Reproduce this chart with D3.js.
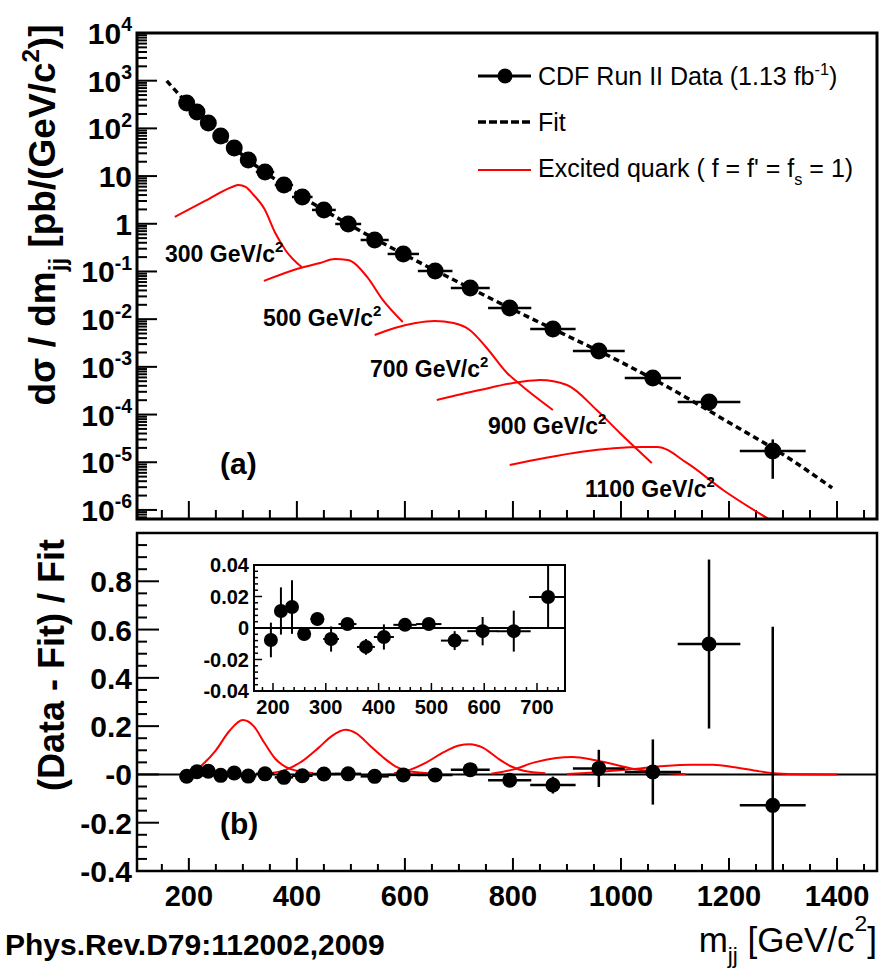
<!DOCTYPE html>
<html>
<head>
<meta charset="utf-8">
<script src="https://cdn.jsdelivr.net/npm/d3@7"></script>
<style>
  body { margin: 0; background: #fff; }
  text { font-family: "Liberation Sans", Arial, Helvetica, sans-serif; fill: #000; }
</style>
</head>
<body>
<svg id="chart"></svg>
<script>
// measured points (bin centre, half bin width)
const massGeV = [196, 215, 236, 259, 284, 310, 341, 376, 410, 450, 495, 544, 597, 656, 721, 794, 874, 959, 1059, 1163, 1281];
const binHalfWidth = [9, 10, 11, 12, 13, 15, 17, 17, 19, 22, 24, 26, 29, 32, 36, 40, 42, 48, 52, 58, 61];
const crossSection = [341, 221, 130, 69, 38.8, 21.7, 12.2, 6.5, 3.65, 1.95, 0.99, 0.457, 0.233, 0.102, 0.045,
                      0.0172, 0.0062, 0.00215, 5.85e-4, 1.84e-4, 1.73e-5];
const residual = [-0.0076, 0.0108, 0.0133, -0.0038, 0.0057, -0.007, 0.0025, -0.012, -0.0057, 0.002, 0.0025,
                  -0.008, -0.002, -0.002, 0.0197, -0.024, -0.044, 0.025, 0.01, 0.54, -0.128];
const residualErr = [0.011, 0.015, 0.017, 0.004, 0.004, 0.008, 0.003, 0.005, 0.008, 0.003, 0.003,
                     0.006, 0.009, 0.013, 0.02, 0.012, 0.035, 0.077, 0.135, 0.35, 0.74];
const nInset = 15;

// fit curve
const fitMass = [159, 200, 250, 300, 400, 500, 600, 700, 800, 900, 1000, 1100, 1200, 1300, 1391];
const fitValue = [990, 311, 88.5, 27.2, 4.33, 0.916, 0.223, 0.0588, 0.0159, 0.00451, 0.00126, 3.11e-4, 6.8e-5, 1.46e-5, 2.9e-6];

// excited quark signals, top panel (mass, log10 of dsigma/dm)
const qLabels = ["300", "500", "700", "900", "1100"];
const qMass = [
  [174, 230, 280, 292, 305, 320, 340, 360, 380, 400, 409],
  [339, 406, 443, 470, 494, 530, 559, 596],
  [544, 581, 620, 655, 690, 720, 750, 789, 819, 874],
  [659, 739, 813, 850, 900, 955, 998, 1057],
  [794, 859, 924, 1041, 1067, 1122, 1189, 1276]
];
const qLog = [
  [0.143, 0.478, 0.772, 0.814, 0.772, 0.604, 0.31, -0.193, -0.57, -0.822, -0.906],
  [-1.199, -0.927, -0.822, -0.74, -0.759, -1.115, -1.597, -2.059],
  [-2.331, -2.185, -2.08, -2.038, -2.08, -2.226, -2.583, -3.128, -3.421, -3.904],
  [-3.694, -3.484, -3.317, -3.275, -3.38, -3.904, -4.386, -5.015],
  [-5.057, -4.91, -4.784, -4.679, -4.679, -5.015, -5.581, -6.21]
];

// excited quark signals relative to fit, bottom panel
const sMass = [
  [205, 225, 250, 275, 300, 320, 340, 360, 380, 400, 430],
  [350, 380, 410, 440, 465, 490, 510, 535, 560, 585, 610, 650],
  [580, 610, 640, 670, 700, 720, 745, 770, 795, 820, 860],
  [760, 800, 840, 880, 910, 950, 990, 1030, 1070, 1120],
  [900, 960, 1020, 1080, 1130, 1170, 1210, 1250, 1290, 1340, 1400]
];
const sRatio = [
  [0.005, 0.04, 0.1, 0.18, 0.225, 0.2, 0.13, 0.065, 0.03, 0.015, 0.005],
  [0.005, 0.02, 0.055, 0.11, 0.16, 0.185, 0.17, 0.12, 0.07, 0.03, 0.012, 0.004],
  [0.005, 0.02, 0.05, 0.09, 0.12, 0.125, 0.11, 0.07, 0.035, 0.015, 0.005],
  [0.003, 0.02, 0.05, 0.068, 0.072, 0.06, 0.04, 0.02, 0.008, 0.002],
  [0.002, 0.01, 0.022, 0.035, 0.04, 0.04, 0.03, 0.015, 0.004, 0.001, 0]
];

// tick labels
const topExponents = [4, 3, 2, 1, 0, -1, -2, -3, -4, -5, -6];
const botTicks = [0.8, 0.6, 0.4, 0.2, 0, -0.2, -0.4];
const botTickText = ["0.8", "0.6", "0.4", "0.2", "-0", "-0.2", "-0.4"];
const xTicks = [200, 400, 600, 800, 1000, 1200, 1400];
const insetXTicks = [200, 300, 400, 500, 600, 700];
const insetYTicks = [0.04, 0.02, 0, -0.02, -0.04];
const insetYText = ["0.04", "0.02", "0", "-0.02", "-0.04"];

const svg = d3.select("svg#chart").attr("width", 891).attr("height", 969);

const x = d3.scaleLinear().domain([104, 1474]).range([137, 877]);
const yTop = d3.scaleLog().domain([Math.pow(10, -6.19), 1e4]).range([519, 33]);
const yBot = d3.scaleLinear().domain([-0.4, 1.0]).range([871, 533]);
const xIn = d3.scaleLinear().domain([164, 753]).range([254, 565]);
const yIn = d3.scaleLinear().domain([-0.04, 0.04]).range([691, 565]);

// parts: [text, 1 = superscript, -1 = subscript, 0 = normal]
function rich(sel, parts, size, supRaise = 0.42) {
  let shift = 0;
  parts.forEach(p => {
    const target = p[1] === 1 ? -size * supRaise : p[1] === -1 ? size * 0.3 : 0;
    sel.append("tspan")
      .attr("dy", target - shift)
      .attr("font-size", p[1] ? size * 0.65 : size)
      .text(p[0]);
    shift = target;
  });
  return sel;
}

const defs = svg.append("defs");
defs.append("clipPath").attr("id", "clipTop").append("rect")
  .attr("x", 137).attr("y", 33).attr("width", 740).attr("height", 486);
defs.append("clipPath").attr("id", "clipBot").append("rect")
  .attr("x", 137).attr("y", 533).attr("width", 740).attr("height", 338);

// ---------- top panel ----------
const upper = svg.append("g");

// ticks
const yMinor = [];
for (let k = -7; k <= 3; k++) for (let j = 1; j <= 9; j++) {
  const v = j * Math.pow(10, k);
  if (v >= yTop.domain()[0] && v <= 1e4) yMinor.push([v, j === 1]);
}
upper.selectAll(".ytick").data(yMinor).enter().append("line")
  .attr("x1", 137).attr("x2", d => 137 + (d[1] ? 20 : 10))
  .attr("y1", d => yTop(d[0])).attr("y2", d => yTop(d[0]))
  .attr("stroke", "#000").attr("stroke-width", 2);

const xMinor = d3.range(150, 1451, 50);
upper.selectAll(".xtick").data(xMinor).enter().append("line")
  .attr("x1", d => x(d)).attr("x2", d => x(d))
  .attr("y1", 519).attr("y2", d => 519 - (d % 200 === 0 ? 18 : 9))
  .attr("stroke", "#000").attr("stroke-width", 2);

upper.selectAll(".ylab").data(topExponents).enter().append("text")
  .attr("x", 132).attr("y", d => yTop(Math.pow(10, d)) + 11)
  .attr("text-anchor", "end").attr("font-weight", "bold")
  .each(function (d) {
    const t = d3.select(this);
    if (d === 0) rich(t, [["1", 0]], 30);
    else if (d === 1) rich(t, [["10", 0]], 30);
    else rich(t, [["10", 0], [String(d), 1]], 30);
  });

const topPlot = upper.append("g").attr("clip-path", "url(#clipTop)");

// excited quark curves
const lineTop = d3.line().x(d => x(d[0])).y(d => yTop(Math.pow(10, d[1]))).curve(d3.curveMonotoneX);
qMass.forEach((ms, i) => {
  topPlot.append("path")
    .attr("d", lineTop(ms.map((m, j) => [m, qLog[i][j]])))
    .attr("fill", "none").attr("stroke", "#ff0000").attr("stroke-width", 2);
});

// data
const pts = massGeV.map((m, i) => ({ m, v: crossSection[i], hw: binHalfWidth[i], r: residual[i], e: residualErr[i] }));
topPlot.selectAll(".hbar").data(pts).enter().append("line")
  .attr("x1", d => x(d.m - d.hw)).attr("x2", d => x(d.m + d.hw))
  .attr("y1", d => yTop(d.v)).attr("y2", d => yTop(d.v))
  .attr("stroke", "#000").attr("stroke-width", 2.5);
topPlot.selectAll(".vbar").data(pts).enter().append("line")
  .attr("x1", d => x(d.m)).attr("x2", d => x(d.m))
  .attr("y1", d => yTop(d.v * (1 + d.e))).attr("y2", d => yTop(d.v * (1 - d.e)))
  .attr("stroke", "#000").attr("stroke-width", 2.5);
topPlot.selectAll(".pt").data(pts).enter().append("circle")
  .attr("cx", d => x(d.m)).attr("cy", d => yTop(d.v)).attr("r", 8.5).attr("fill", "#000");

// fit
const fitLine = d3.line().x(d => x(d[0])).y(d => yTop(d[1])).curve(d3.curveMonotoneX);
topPlot.append("path")
  .attr("d", fitLine(fitMass.map((m, i) => [m, fitValue[i]])))
  .attr("fill", "none").attr("stroke", "#000").attr("stroke-width", 3.5)
  .attr("stroke-dasharray", "6,4");

upper.append("rect").attr("x", 137).attr("y", 33).attr("width", 740).attr("height", 486)
  .attr("fill", "none").attr("stroke", "#000").attr("stroke-width", 3);

// signal labels
const qLabelPos = [[165, 262], [263, 326], [370, 377], [488, 434], [585, 497]];
qLabels.forEach((l, i) => {
  rich(upper.append("text").attr("x", qLabelPos[i][0]).attr("y", qLabelPos[i][1]).attr("font-weight", "bold"),
    [[l + " GeV/c", 0], ["2", 1]], 23);
});

// legend
const leg = upper.append("g");
leg.append("line").attr("x1", 478).attr("x2", 531).attr("y1", 76).attr("y2", 76).attr("stroke", "#000").attr("stroke-width", 3);
leg.append("circle").attr("cx", 505).attr("cy", 76).attr("r", 7.5).attr("fill", "#000");
rich(leg.append("text").attr("x", 538).attr("y", 85), [["CDF Run II Data (1.13 fb", 0], ["-1", 1], [")", 0]], 25);
leg.append("line").attr("x1", 478).attr("x2", 531).attr("y1", 122).attr("y2", 122).attr("stroke", "#000")
  .attr("stroke-width", 3.5).attr("stroke-dasharray", "8,3");
rich(leg.append("text").attr("x", 538).attr("y", 131), [["Fit", 0]], 25);
leg.append("line").attr("x1", 478).attr("x2", 531).attr("y1", 170).attr("y2", 170).attr("stroke", "#ff0000").attr("stroke-width", 2);
rich(leg.append("text").attr("x", 538).attr("y", 177), [["Excited quark ( f = f' = f", 0], ["s", -1], [" = 1)", 0]], 25);

upper.append("text").attr("x", 220).attr("y", 474).attr("font-weight", "bold").attr("font-size", 30).text("(a)");

rich(svg.append("text").attr("transform", "translate(55,215) rotate(-90)").attr("text-anchor", "middle")
  .attr("font-weight", "bold"),
  [["dσ / dm", 0], ["jj", -1], [" [pb/(GeV/c", 0], ["2", 1], [")]", 0]], 37);

// ---------- bottom panel ----------
const lower = svg.append("g");
lower.selectAll(".bytick").data(d3.range(-0.4, 1.0001, 0.05)).enter().append("line")
  .attr("x1", 137).attr("x2", d => 137 + (Math.abs(Math.round(d * 100)) % 20 === 0 ? 22 : 10))
  .attr("y1", d => yBot(d)).attr("y2", d => yBot(d))
  .attr("stroke", "#000").attr("stroke-width", 2);
lower.selectAll(".bxtick").data(xMinor).enter().append("line")
  .attr("x1", d => x(d)).attr("x2", d => x(d))
  .attr("y1", 871).attr("y2", d => 871 - (d % 200 === 0 ? 13 : 7))
  .attr("stroke", "#000").attr("stroke-width", 2);
lower.selectAll(".bylab").data(botTicks).enter().append("text")
  .attr("x", 132).attr("y", d => yBot(d) + 11).attr("text-anchor", "end")
  .attr("font-weight", "bold").attr("font-size", 30).text((d, i) => botTickText[i]);
lower.selectAll(".bxlab").data(xTicks).enter().append("text")
  .attr("x", d => x(d)).attr("y", 906).attr("text-anchor", "middle")
  .attr("font-weight", "bold").attr("font-size", 29).text(d => d);

const botPlot = lower.append("g").attr("clip-path", "url(#clipBot)");
botPlot.append("line").attr("x1", 137).attr("x2", 877).attr("y1", yBot(0)).attr("y2", yBot(0))
  .attr("stroke", "#000").attr("stroke-width", 2);
const lineBot = d3.line().x(d => x(d[0])).y(d => yBot(d[1])).curve(d3.curveMonotoneX);
sMass.forEach((ms, i) => {
  botPlot.append("path")
    .attr("d", lineBot(ms.map((m, j) => [m, sRatio[i][j]])))
    .attr("fill", "none").attr("stroke", "#ff0000").attr("stroke-width", 2);
});
botPlot.selectAll(".hbar").data(pts).enter().append("line")
  .attr("x1", d => x(d.m - d.hw)).attr("x2", d => x(d.m + d.hw))
  .attr("y1", d => yBot(d.r)).attr("y2", d => yBot(d.r))
  .attr("stroke", "#000").attr("stroke-width", 2.5);
botPlot.selectAll(".vbar").data(pts).enter().append("line")
  .attr("x1", d => x(d.m)).attr("x2", d => x(d.m))
  .attr("y1", d => yBot(d.r + d.e)).attr("y2", d => yBot(d.r - d.e))
  .attr("stroke", "#000").attr("stroke-width", 2.5);
botPlot.selectAll(".pt").data(pts).enter().append("circle")
  .attr("cx", d => x(d.m)).attr("cy", d => yBot(d.r)).attr("r", 7.5).attr("fill", "#000");

lower.append("rect").attr("x", 137).attr("y", 533).attr("width", 740).attr("height", 338)
  .attr("fill", "none").attr("stroke", "#000").attr("stroke-width", 2.5);

lower.append("text").attr("x", 220).attr("y", 834).attr("font-weight", "bold").attr("font-size", 30).text("(b)");

svg.append("text").attr("transform", "translate(64,665) rotate(-90)").attr("text-anchor", "middle")
  .attr("font-weight", "bold").attr("font-size", 36).text("(Data - Fit) / Fit");

// ---------- inset ----------
const ins = svg.append("g");
ins.append("rect").attr("x", 254).attr("y", 565).attr("width", 311).attr("height", 126).attr("fill", "#fff");
ins.selectAll(".iytick").data(d3.range(-0.04, 0.04001, 0.004)).enter().append("line")
  .attr("x1", 254).attr("x2", d => 254 + (Math.abs(Math.round(d * 1000)) % 20 === 0 ? 8 : 4))
  .attr("y1", d => yIn(d)).attr("y2", d => yIn(d))
  .attr("stroke", "#000").attr("stroke-width", 1.5);
ins.selectAll(".ixtick").data(d3.range(180, 741, 20)).enter().append("line")
  .attr("x1", d => xIn(d)).attr("x2", d => xIn(d))
  .attr("y1", 691).attr("y2", d => 691 - (d % 100 === 0 ? 8 : 4))
  .attr("stroke", "#000").attr("stroke-width", 1.5);
ins.selectAll(".iylab").data(insetYTicks).enter().append("text")
  .attr("x", 249).attr("y", d => yIn(d) + 7).attr("text-anchor", "end")
  .attr("font-weight", "bold").attr("font-size", 20).text((d, i) => insetYText[i]);
ins.selectAll(".ixlab").data(insetXTicks).enter().append("text")
  .attr("x", d => xIn(d)).attr("y", 714).attr("text-anchor", "middle")
  .attr("font-weight", "bold").attr("font-size", 20).text(d => d);

defs.append("clipPath").attr("id", "clipIn").append("rect")
  .attr("x", 254).attr("y", 565).attr("width", 311).attr("height", 126);
const insPlot = ins.append("g").attr("clip-path", "url(#clipIn)");
insPlot.append("line").attr("x1", 254).attr("x2", 565).attr("y1", yIn(0)).attr("y2", yIn(0))
  .attr("stroke", "#000").attr("stroke-width", 2);
const inPts = pts.slice(0, nInset);
insPlot.selectAll(".hbar").data(inPts).enter().append("line")
  .attr("x1", d => xIn(d.m - d.hw)).attr("x2", d => xIn(d.m + d.hw))
  .attr("y1", d => yIn(d.r)).attr("y2", d => yIn(d.r))
  .attr("stroke", "#000").attr("stroke-width", 2);
insPlot.selectAll(".vbar").data(inPts).enter().append("line")
  .attr("x1", d => xIn(d.m)).attr("x2", d => xIn(d.m))
  .attr("y1", d => yIn(d.r + d.e)).attr("y2", d => yIn(d.r - d.e))
  .attr("stroke", "#000").attr("stroke-width", 2);
insPlot.selectAll(".pt").data(inPts).enter().append("circle")
  .attr("cx", d => xIn(d.m)).attr("cy", d => yIn(d.r)).attr("r", 7).attr("fill", "#000");
ins.append("rect").attr("x", 254).attr("y", 565).attr("width", 311).attr("height", 126)
  .attr("fill", "none").attr("stroke", "#000").attr("stroke-width", 2);

// ---------- axis title and citation ----------
rich(svg.append("text").attr("x", 877).attr("y", 952).attr("text-anchor", "end"),
  [["m", 0], ["jj", -1], [" [GeV/c", 0], ["2", 1], ["]", 0]], 35, 0.6);
svg.append("text").attr("x", 5).attr("y", 955).attr("font-weight", "bold").attr("font-size", 30)
  .text("Phys.Rev.D79:112002,2009");
</script>
</body>
</html>
